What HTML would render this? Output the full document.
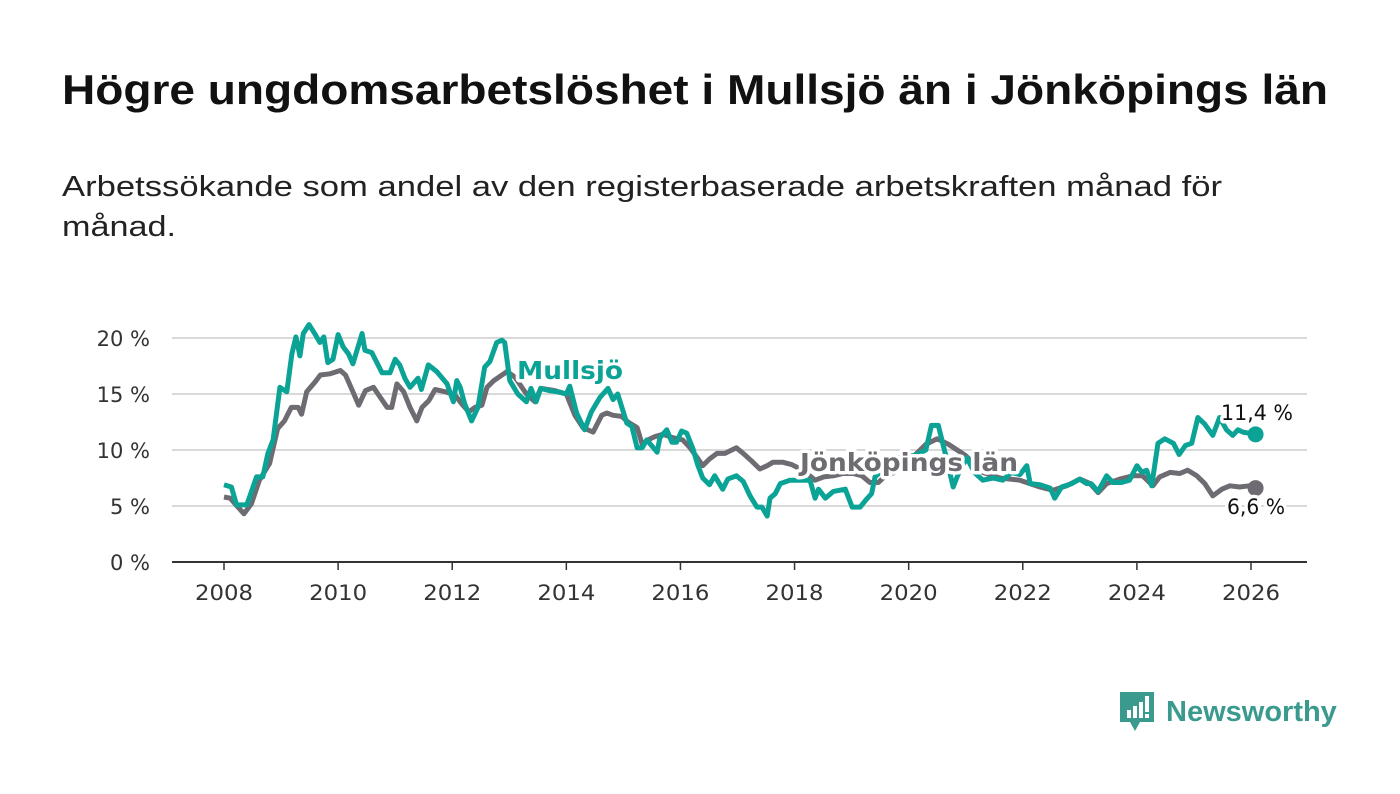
<!DOCTYPE html>
<html><head><meta charset="utf-8"><style>
body{margin:0;width:1400px;height:794px;background:#fff;font-family:"DejaVu Sans","Liberation Sans",sans-serif;overflow:hidden}
</style></head><body>
<svg id="chart" width="1400" height="794" style="position:absolute;left:0;top:0;font-family:'DejaVu Sans','Liberation Sans',sans-serif">
<text x="62" y="104" font-size="42" font-weight="bold" fill="#111" font-family="Liberation Sans, sans-serif" textLength="1266" lengthAdjust="spacingAndGlyphs">Högre ungdomsarbetslöshet i Mullsjö än i Jönköpings län</text>
<text x="62" y="196" font-size="29" fill="#222" font-family="Liberation Sans, sans-serif" textLength="1160" lengthAdjust="spacingAndGlyphs">Arbetssökande som andel av den registerbaserade arbetskraften månad för</text>
<text x="62" y="236" font-size="29" fill="#222" font-family="Liberation Sans, sans-serif" textLength="114" lengthAdjust="spacingAndGlyphs">månad.</text>
</svg>
<div style="position:absolute;left:1118px;top:690px;height:44px;display:flex;align-items:center">
<svg width="38" height="44" viewBox="0 0 38 44"><path d="M2 2h34v30H22l-5 9-5-9H2z" fill="#3a9a8d"/><rect x="9" y="20" width="4" height="8" fill="#fff"/><rect x="15" y="16" width="4" height="12" fill="#fff"/><rect x="21" y="12" width="4" height="16" fill="#fff"/><rect x="27" y="6" width="4" height="16" fill="#fff"/><rect x="27" y="24" width="4" height="4" fill="#fff"/></svg>
<span style="font-family:'Liberation Sans',sans-serif;font-size:29px;font-weight:bold;color:#3a9a8d;margin-left:10px">Newsworthy</span></div>
<script>
const mDates=[2008.0,2008.13,2008.22,2008.4,2008.57,2008.68,2008.77,2008.86,2008.98,2009.1,2009.19,2009.26,2009.33,2009.39,2009.49,2009.6,2009.68,2009.75,2009.82,2009.91,2010.0,2010.09,2010.18,2010.26,2010.42,2010.47,2010.59,2010.68,2010.77,2010.91,2011.0,2011.08,2011.17,2011.26,2011.4,2011.46,2011.58,2011.73,2011.91,2012.02,2012.08,2012.14,2012.22,2012.34,2012.45,2012.57,2012.66,2012.78,2012.87,2012.92,2013.01,2013.15,2013.3,2013.38,2013.47,2013.55,2013.7,2013.85,2014.0,2014.06,2014.18,2014.32,2014.44,2014.59,2014.73,2014.82,2014.9,2015.06,2015.15,2015.24,2015.33,2015.41,2015.59,2015.64,2015.76,2015.85,2015.93,2016.02,2016.11,2016.22,2016.3,2016.39,2016.51,2016.6,2016.74,2016.83,2016.98,2017.1,2017.22,2017.34,2017.43,2017.52,2017.57,2017.66,2017.75,2017.92,2018.21,2018.27,2018.36,2018.42,2018.54,2018.68,2018.89,2019.01,2019.15,2019.26,2019.35,2019.41,2019.5,2019.7,2019.9,2020.1,2020.3,2020.4,2020.52,2020.65,2020.78,2020.88,2021.02,2021.15,2021.3,2021.48,2021.65,2021.8,2021.95,2022.07,2022.13,2022.3,2022.48,2022.56,2022.68,2022.86,2023.0,2023.12,2023.2,2023.32,2023.47,2023.58,2023.73,2023.87,2024.0,2024.09,2024.17,2024.26,2024.37,2024.49,2024.64,2024.74,2024.85,2024.96,2025.07,2025.19,2025.33,2025.45,2025.57,2025.68,2025.77,2025.86,2026.08];
const mullsjo=[6.9,6.7,5.1,5.1,7.6,7.6,9.7,10.9,15.6,15.2,18.6,20.1,18.4,20.4,21.2,20.3,19.6,20.1,17.8,18.1,20.3,19.2,18.6,17.7,20.4,18.9,18.7,17.8,16.9,16.9,18.1,17.6,16.4,15.6,16.4,15.4,17.6,17.0,15.9,14.3,16.2,15.6,14.1,12.6,13.8,17.4,17.9,19.6,19.8,19.6,16.2,15.0,14.3,15.5,14.3,15.5,15.3,15.2,15.0,15.7,13.3,11.8,13.4,14.7,15.5,14.5,15.0,12.4,12.1,10.2,10.2,10.9,9.8,11.1,11.8,10.7,10.7,11.7,11.5,10.1,8.7,7.5,6.9,7.7,6.5,7.4,7.7,7.2,5.9,4.9,4.9,4.1,5.7,6.1,7.0,7.3,7.3,7.3,5.7,6.5,5.7,6.3,6.5,4.9,4.9,5.6,6.1,7.6,8.0,9.0,9.5,9.5,10.0,12.2,12.2,9.5,6.7,8.0,9.3,8.0,7.3,7.5,7.3,8.0,7.8,8.6,7.0,6.9,6.6,5.7,6.7,7.0,7.4,7.0,7.0,6.3,7.7,7.1,7.1,7.3,8.6,8.0,8.2,6.8,10.6,11.0,10.6,9.6,10.4,10.6,12.9,12.3,11.3,12.9,11.8,11.3,11.8,11.6,11.4];
const jDates=[2008.0,2008.11,2008.21,2008.35,2008.48,2008.62,2008.8,2008.94,2009.06,2009.18,2009.3,2009.36,2009.45,2009.6,2009.69,2009.86,2010.04,2010.13,2010.25,2010.36,2010.48,2010.62,2010.74,2010.86,2010.94,2011.03,2011.15,2011.26,2011.38,2011.47,2011.59,2011.7,2011.88,2012.05,2012.17,2012.29,2012.4,2012.52,2012.61,2012.73,2012.96,2013.1,2013.3,2013.45,2013.55,2013.8,2014.0,2014.15,2014.29,2014.47,2014.62,2014.71,2014.82,2014.97,2015.08,2015.24,2015.33,2015.43,2015.55,2015.69,2015.87,2016.04,2016.17,2016.31,2016.39,2016.51,2016.64,2016.78,2016.98,2017.1,2017.25,2017.39,2017.52,2017.62,2017.8,2017.95,2018.15,2018.36,2018.51,2018.68,2018.85,2019.03,2019.18,2019.32,2019.47,2019.59,2019.75,2019.9,2020.1,2020.3,2020.5,2020.7,2021.0,2021.3,2021.6,2021.95,2022.3,2022.53,2022.77,2023.0,2023.18,2023.32,2023.47,2023.7,2023.93,2024.1,2024.28,2024.4,2024.58,2024.75,2024.89,2025.05,2025.19,2025.33,2025.49,2025.63,2025.8,2025.97,2026.08];
const jonkoping=[5.8,5.7,5.1,4.3,5.2,7.3,8.8,11.9,12.6,13.8,13.8,13.2,15.2,16.1,16.7,16.8,17.1,16.7,15.3,14.0,15.3,15.6,14.7,13.8,13.8,15.9,15.2,13.8,12.6,13.8,14.4,15.4,15.2,14.9,14.1,13.4,13.8,14.0,15.6,16.2,17.0,16.5,15.0,14.3,15.5,15.3,15.0,13.1,12.0,11.6,13.1,13.3,13.1,13.0,12.5,12.0,10.5,10.9,11.2,11.4,11.1,10.9,10.2,9.2,8.6,9.2,9.7,9.7,10.2,9.7,9.0,8.3,8.6,8.9,8.9,8.7,8.2,7.3,7.6,7.7,7.9,7.9,7.7,7.1,7.1,7.7,8.0,8.5,9.5,10.5,11.0,10.5,9.5,8.0,7.5,7.3,6.7,6.4,6.8,7.4,7.0,6.2,7.0,7.4,7.7,7.7,6.8,7.6,8.0,7.9,8.2,7.7,7.0,5.9,6.5,6.8,6.7,6.8,6.6];
const yTicks=[0,5,10,15,20];
const xTicks=[2008,2010,2012,2014,2016,2018,2020,2022,2024,2026];
const svg=document.getElementById('chart');const NS='http://www.w3.org/2000/svg';
const X=t=>224+(t-2008)*(1251-224)/18, Y=v=>562-v*11.2;
function mk(tag,at,txt){const e=document.createElementNS(NS,tag);for(const k in at)e.setAttribute(k,at[k]);if(txt!=null)e.textContent=txt;svg.appendChild(e);return e;}
yTicks.forEach(v=>{
 if(v>0){const g=mk('line',{x1:172,x2:1307,y1:Y(v),y2:Y(v),stroke:'#d9d9d9','stroke-width':2});
 
 }
 const t=mk('text',{x:150,y:Y(v)+8,'text-anchor':'end','font-size':21,fill:'#333'},v+' %');
 
 
});
const ax=mk('line',{x1:172,x2:1307,y1:562,y2:562,stroke:'#333','stroke-width':2});


xTicks.forEach(v=>{
 const tk=mk('line',{x1:X(v),x2:X(v),y1:562,y2:570,stroke:'#333','stroke-width':1.5});
 
 
 const t=mk('text',{x:X(v),y:600,'text-anchor':'middle','font-size':21,fill:'#333',textLength:58,lengthAdjust:'spacingAndGlyphs'},v);
 
 
});
function line(d,v,c,name){
 const pts=d.map((t,i)=>X(t).toFixed(1)+','+Y(v[i]).toFixed(1)).join(' ');
 const p=mk('polyline',{points:pts,fill:'none',stroke:c,'stroke-width':5,'stroke-linejoin':'round'});
 
 
 const dot=mk('circle',{cx:X(d[d.length-1]),cy:Y(v[v.length-1]),r:8,fill:c});
 
 
}
line(jDates,jonkoping,'#6e6c72','jonkoping-line');
line(mDates,mullsjo,'#0aa396','mullsjo-line');
function lab(x,y,txt,c,name,bold,size,w){
 const h=mk('text',{x:x,y:y,'font-size':size,'font-weight':bold?'bold':'normal',fill:'none',stroke:'#fff','stroke-width':7,'stroke-linejoin':'round',textLength:w,lengthAdjust:'spacingAndGlyphs'},txt);
 
 
 const t=mk('text',{x:x,y:y,'font-size':size,'font-weight':bold?'bold':'normal',fill:c,textLength:w,lengthAdjust:'spacingAndGlyphs'},txt);
 
 
}
lab(517,379,'Mullsjö','#0aa396','mullsjo-label',true,25,106);
lab(800,471,'Jönköpings län','#6e6c72','jonkoping-label',true,25,218);
lab(1221,420,'11,4 %','#111','mullsjo-end-value',false,21,72);
lab(1227,514,'6,6 %','#111','jonkoping-end-value',false,21,58);
</script>
</body></html>
